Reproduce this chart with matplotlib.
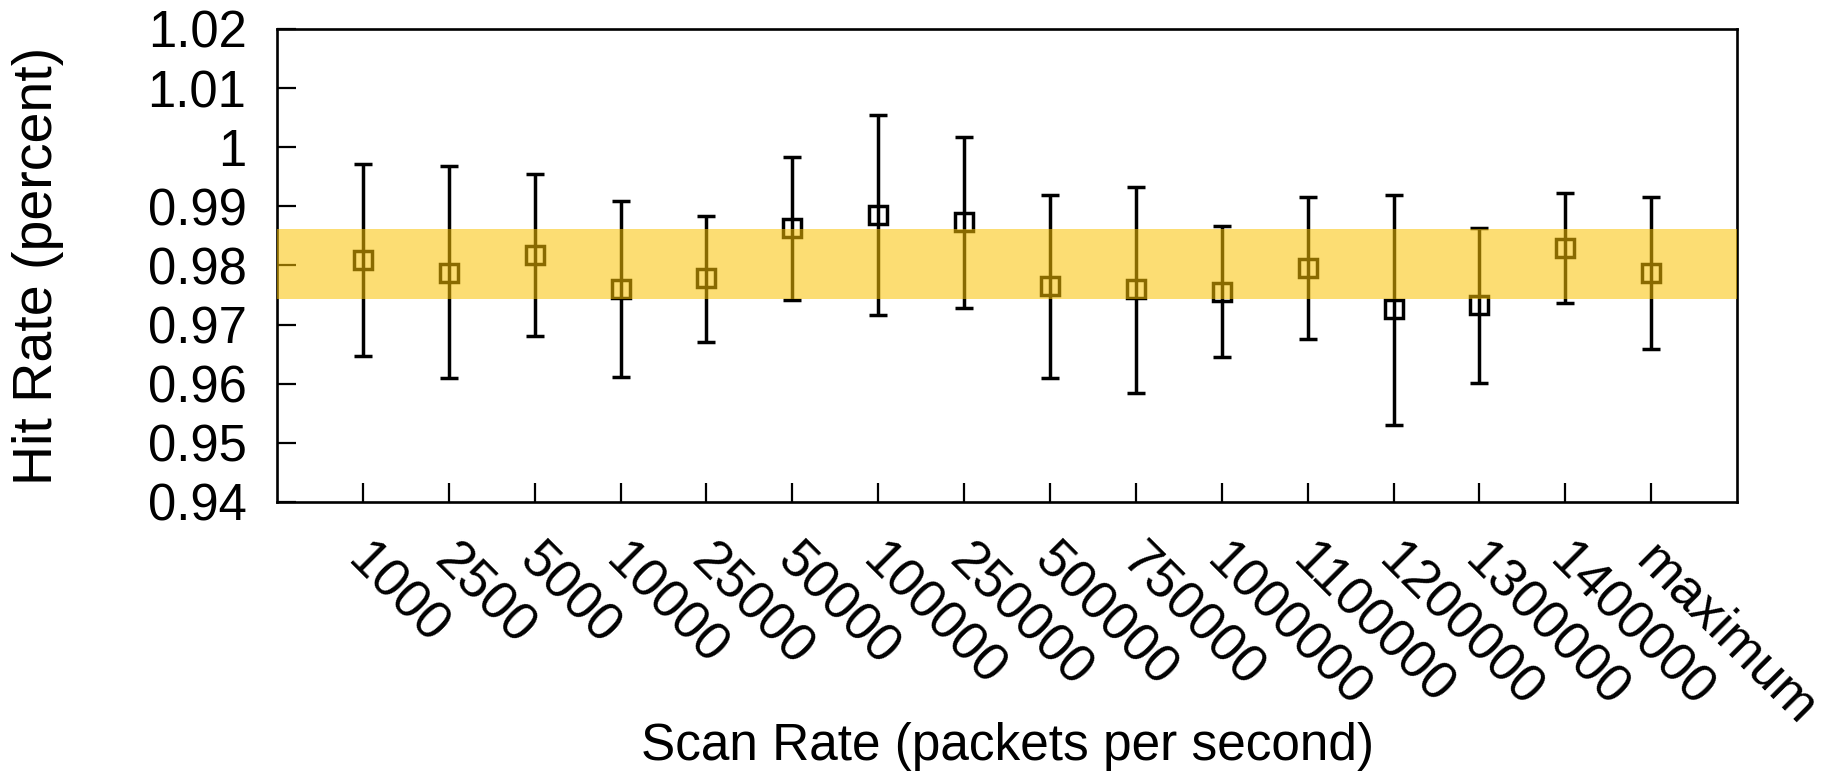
import numpy as np
import matplotlib
matplotlib.use("Agg")
from matplotlib import pyplot as plt
from matplotlib.transforms import ScaledTranslation

plt.rcParams["font.family"] = ["Liberation Sans", "DejaVu Sans"]

# scan rates (packets per second) and measured hit rates
rates = ["1000", "2500", "5000", "10000", "25000", "50000", "100000", "250000",
         "500000", "750000", "1000000", "1100000", "1200000", "1300000",
         "1400000", "maximum"]
hit_mean = [0.9809, 0.9788, 0.9817, 0.9761, 0.9778, 0.9863, 0.9886, 0.9874,
            0.9765, 0.9760, 0.9755, 0.9796, 0.9726, 0.9733, 0.9830, 0.9787]
hit_hi = [0.9972, 0.9968, 0.9955, 0.9909, 0.9883, 0.9984, 1.0055, 1.0018,
          0.9919, 0.9933, 0.9866, 0.9915, 0.9920, 0.9864, 0.9922, 0.9916]
hit_lo = [0.9647, 0.9609, 0.9680, 0.9611, 0.9671, 0.9742, 0.9717, 0.9728,
          0.9610, 0.9585, 0.9645, 0.9676, 0.9530, 0.9602, 0.9737, 0.9659]

# shaded band
band_lo = 0.9744
band_hi = 0.9862

y_ticks = [0.94, 0.95, 0.96, 0.97, 0.98, 0.99, 1.00, 1.01, 1.02]
y_tick_labels = ["0.94", "0.95", "0.96", "0.97", "0.98", "0.99", "1", "1.01", "1.02"]

x = np.arange(1, len(rates) + 1)
mean = np.array(hit_mean)
yerr = np.vstack([mean - np.array(hit_lo), np.array(hit_hi) - mean])

fig = plt.figure(figsize=(18.31, 7.75), dpi=100)
ax = fig.add_axes([0.1513, 0.3523, 0.7974, 0.6103])

ax.errorbar(x, mean, yerr=yerr, fmt="s", color="black", mfc="none", mec="black",
            ms=13, mew=2.5, elinewidth=2.5, capsize=6.5, capthick=2.5, zorder=2)
ax.axhspan(band_lo, band_hi, color="#FBC200", alpha=0.55, lw=0, zorder=3)

ax.set_xlim(0, len(rates) + 1)
ax.set_ylim(0.94, 1.02)
ax.set_yticks(y_ticks)
ax.set_yticklabels(y_tick_labels, fontsize=36.5)
ax.set_xticks(x)
ax.set_xticklabels(rates, fontsize=38.5, rotation=-45, ha="left", va="top",
                   rotation_mode="anchor")

ax.tick_params(axis="both", direction="in", length=14, width=1.6, colors="black")
ax.tick_params(axis="y", pad=22)
ax.tick_params(axis="x", pad=24)
# nudge rotated labels so they start right at the tick
shift = ScaledTranslation(0.10, 0.0, fig.dpi_scale_trans)
for lab in ax.get_xticklabels():
    lab.set_transform(lab.get_transform() + shift)
for s in ax.spines.values():
    s.set_linewidth(1.9)

ax.set_ylabel("Hit Rate (percent)", fontsize=40, va="center")
ax.yaxis.set_label_coords(-0.164, 0.5)
ax.set_xlabel("Scan Rate (packets per second)", fontsize=37, va="center")
ax.xaxis.set_label_coords(0.5, -0.518)

fig.savefig("out.png", dpi=100)
